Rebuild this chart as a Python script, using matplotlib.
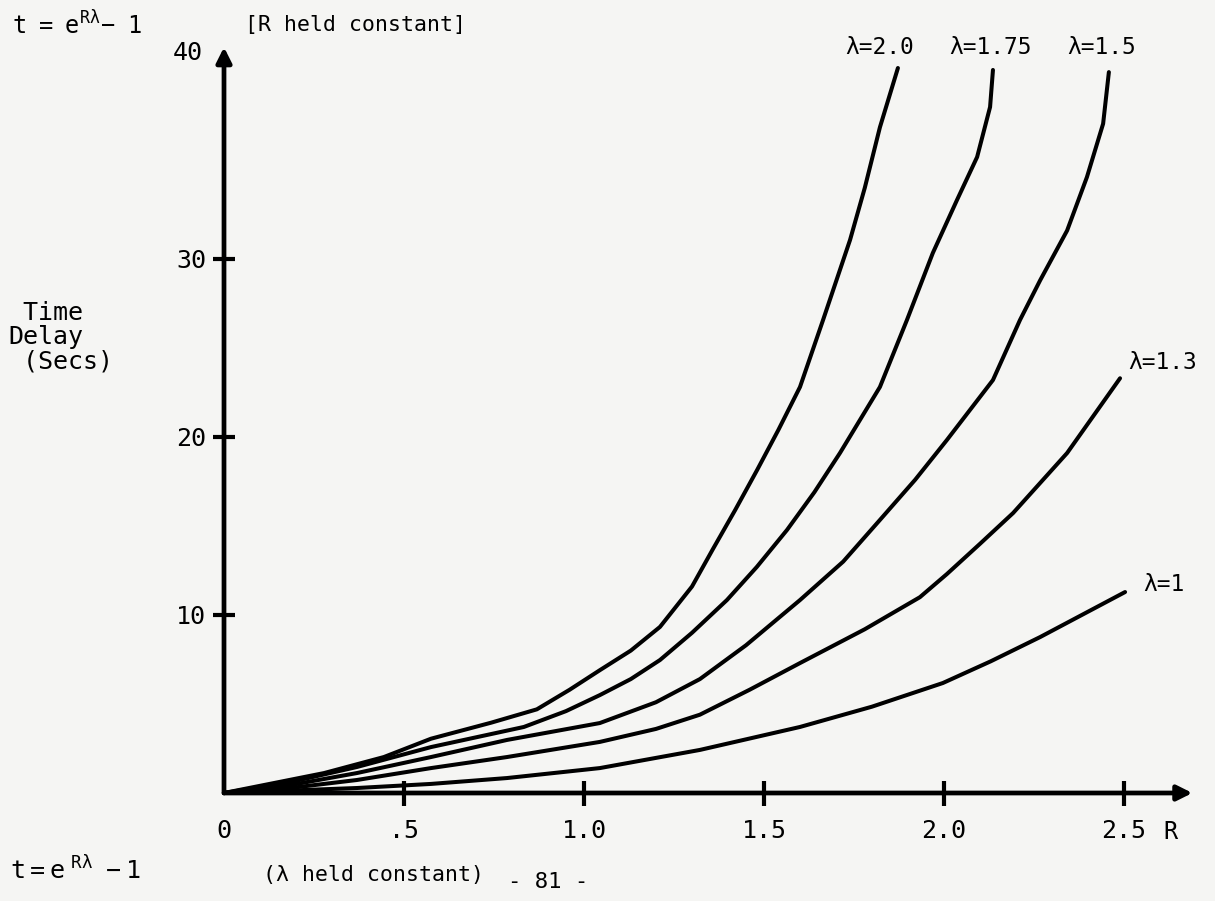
import numpy as np
import matplotlib
matplotlib.use("Agg")
import matplotlib.pyplot as plt

# values: R (x) and time delay t (y)
r_l20 = [0, 0.278, 0.444, 0.575, 0.742, 0.869, 0.960, 1.044, 1.130, 1.211, 1.300, 1.358, 1.420, 1.481, 1.540, 1.600, 1.664, 1.739, 1.780, 1.822, 1.872]
t_l20 = [0, 1.12, 2.02, 3.05, 3.95, 4.70, 5.80, 6.90, 8.00, 9.33, 11.60, 13.70, 15.90, 18.15, 20.40, 22.81, 26.57, 31.07, 34.00, 37.40, 40.73]

r_l175 = [0, 0.186, 0.369, 0.575, 0.833, 0.950, 1.044, 1.130, 1.211, 1.300, 1.397, 1.480, 1.564, 1.640, 1.711, 1.822, 1.897, 1.969, 2.036, 2.092, 2.128, 2.136]
t_l175 = [0, 0.62, 1.46, 2.58, 3.71, 4.60, 5.50, 6.40, 7.47, 9.00, 10.84, 12.70, 14.78, 16.90, 19.10, 22.81, 26.57, 30.34, 33.31, 35.73, 38.54, 40.62]

r_l15 = [0, 0.139, 0.369, 0.575, 0.786, 1.044, 1.200, 1.322, 1.450, 1.600, 1.720, 1.822, 1.920, 2.008, 2.136, 2.211, 2.267, 2.342, 2.397, 2.442, 2.458]
t_l15 = [0, 0.28, 1.12, 2.02, 2.98, 3.93, 5.10, 6.40, 8.30, 10.84, 13.00, 15.34, 17.60, 19.83, 23.20, 26.57, 28.80, 31.60, 34.60, 37.60, 40.50]

r_l13 = [0, 0.092, 0.369, 0.575, 0.786, 1.044, 1.200, 1.322, 1.460, 1.600, 1.780, 1.933, 2.008, 2.100, 2.192, 2.342, 2.489]
t_l13 = [0, 0.06, 0.73, 1.40, 2.02, 2.87, 3.60, 4.40, 5.80, 7.30, 9.20, 11.00, 12.30, 14.00, 15.73, 19.10, 23.30]

r_l10 = [0, 0.369, 0.575, 0.786, 1.044, 1.322, 1.600, 1.800, 1.997, 2.130, 2.267, 2.503]
t_l10 = [0, 0.28, 0.51, 0.84, 1.40, 2.42, 3.71, 4.85, 6.18, 7.40, 8.76, 11.29]

x_ticks = [0, 0.5, 1.0, 1.5, 2.0, 2.5]
x_tick_labels = ["0", ".5", "1.0", "1.5", "2.0", "2.5"]
y_ticks = [10, 20, 30]
y_tick_labels = ["10", "20", "30"]

bg = "#f5f5f3"
plt.rcParams["font.family"] = ["DejaVu Sans Mono", "DejaVu Sans"]

W, H = 1215, 901
fig = plt.figure(figsize=(W / 100, H / 100), dpi=100)
fig.patch.set_facecolor(bg)
ax = fig.add_axes([224 / W, 108 / H, 2.75 * 360 / W, 43 * 17.8 / H])
ax.set_facecolor(bg)
ax.set_xlim(0, 2.75)
ax.set_ylim(0, 43)
for s in ax.spines.values():
    s.set_visible(False)

# the curves
for r, t in [(r_l20, t_l20), (r_l175, t_l175), (r_l15, t_l15), (r_l13, t_l13), (r_l10, t_l10)]:
    ax.plot(r, t, color="black", lw=2.9, solid_capstyle="round", solid_joinstyle="round", clip_on=False)

# axes with arrow heads
arrow = dict(arrowstyle="-|>,head_length=0.9,head_width=0.45", lw=3.4, color="black",
             shrinkA=0, shrinkB=0)
ax.annotate("", xy=(2.69, 0), xytext=(0, 0), arrowprops=arrow, annotation_clip=False)
ax.annotate("", xy=(0, 41.9), xytext=(0, 0), arrowprops=arrow, annotation_clip=False)

ax.set_xticks(x_ticks)
ax.set_xticklabels(x_tick_labels)
ax.set_yticks(y_ticks)
ax.set_yticklabels(y_tick_labels)
ax.tick_params(axis="x", direction="inout", length=18, width=3, pad=10, labelsize=18)
ax.tick_params(axis="y", direction="inout", length=16, width=3, pad=5, labelsize=18)
ax.xaxis.get_major_ticks()[0].tick1line.set_visible(False)
ax.text(-0.06, 41.6, "40", ha="right", va="center", fontsize=18)
ax.text(2.61, -2.2, "R", ha="left", va="center", fontsize=17)

# curve labels
ax.text(1.822, 41.9, "λ=2.0", ha="center", va="center", fontsize=16.5)
ax.text(2.128, 41.9, "λ=1.75", ha="center", va="center", fontsize=16.5)
ax.text(2.439, 41.9, "λ=1.5", ha="center", va="center", fontsize=16.5)
ax.text(2.511, 24.2, "λ=1.3", ha="left", va="center", fontsize=16.5)
ax.text(2.553, 11.7, "λ=1", ha="left", va="center", fontsize=16.5)

# annotations around the graph
def ftext(x, y, s, size=16, **kw):
    fig.text(x / W, 1 - y / H, s, va="center", fontsize=size, **kw)

ftext(12, 25, r"$\mathregular{t\ =\ e^{R\lambda}\!-\ 1}$", size=17)
ftext(245, 25, "[R held constant]", size=15.5)
ftext(8, 337, " Time\nDelay\n (Secs)", size=18, linespacing=1.0)
ftext(10, 870, r"$\mathregular{t{=}e^{\ R\lambda}\ -1}$", size=18)
ftext(263, 875, "(λ held constant)", size=15.5)
ftext(508, 882, "- 81 -", size=16)

fig.savefig("out.png", dpi=100, facecolor=bg)
